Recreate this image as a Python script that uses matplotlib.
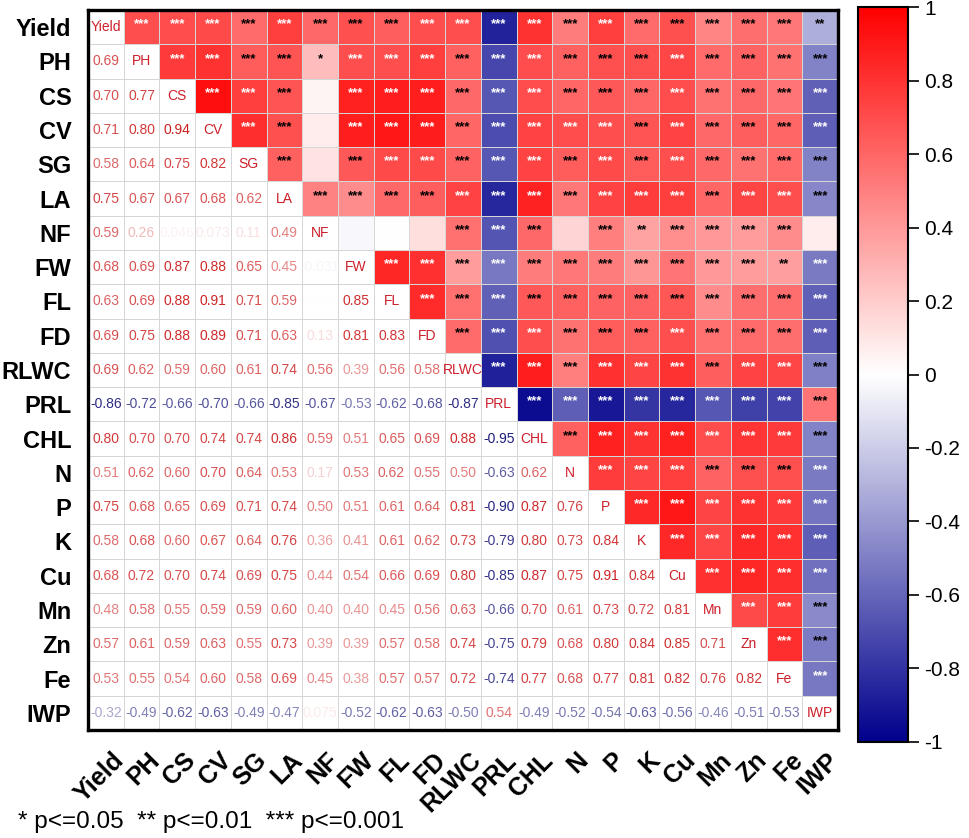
import numpy as np
import matplotlib
matplotlib.use('Agg')
import matplotlib.pyplot as plt
from matplotlib.colors import LinearSegmentedColormap, ListedColormap
from matplotlib.transforms import ScaledTranslation

plt.rcParams['font.family'] = ['Liberation Sans', 'DejaVu Sans']

variables = ['Yield', 'PH', 'CS', 'CV', 'SG', 'LA', 'NF', 'FW', 'FL', 'FD', 'RLWC',
             'PRL', 'CHL', 'N', 'P', 'K', 'Cu', 'Mn', 'Zn', 'Fe', 'IWP']

# lower-triangle correlation coefficients (row i, columns 0..i-1)
r_rows = [
    [],
    [0.69],
    [0.70, 0.77],
    [0.71, 0.80, 0.94],
    [0.58, 0.64, 0.75, 0.82],
    [0.75, 0.67, 0.67, 0.68, 0.62],
    [0.59, 0.26, 0.046, 0.073, 0.11, 0.49],
    [0.68, 0.69, 0.87, 0.88, 0.65, 0.45, -0.031],
    [0.63, 0.69, 0.88, 0.91, 0.71, 0.59, 0.004, 0.85],
    [0.69, 0.75, 0.88, 0.89, 0.71, 0.63, 0.13, 0.81, 0.83],
    [0.69, 0.62, 0.59, 0.60, 0.61, 0.74, 0.56, 0.39, 0.56, 0.58],
    [-0.86, -0.72, -0.66, -0.70, -0.66, -0.85, -0.67, -0.53, -0.62, -0.68, -0.87],
    [0.80, 0.70, 0.70, 0.74, 0.74, 0.86, 0.59, 0.51, 0.65, 0.69, 0.88, -0.95],
    [0.51, 0.62, 0.60, 0.70, 0.64, 0.53, 0.17, 0.53, 0.62, 0.55, 0.50, -0.63, 0.62],
    [0.75, 0.68, 0.65, 0.69, 0.71, 0.74, 0.50, 0.51, 0.61, 0.64, 0.81, -0.90, 0.87, 0.76],
    [0.58, 0.68, 0.60, 0.67, 0.64, 0.76, 0.36, 0.41, 0.61, 0.62, 0.73, -0.79, 0.80, 0.73, 0.84],
    [0.68, 0.72, 0.70, 0.74, 0.69, 0.75, 0.44, 0.54, 0.66, 0.69, 0.80, -0.85, 0.87, 0.75, 0.91, 0.84],
    [0.48, 0.58, 0.55, 0.59, 0.59, 0.60, 0.40, 0.40, 0.45, 0.56, 0.63, -0.66, 0.70, 0.61, 0.73, 0.72, 0.81],
    [0.57, 0.61, 0.59, 0.63, 0.55, 0.73, 0.39, 0.39, 0.57, 0.58, 0.74, -0.75, 0.79, 0.68, 0.80, 0.84, 0.85, 0.71],
    [0.53, 0.55, 0.54, 0.60, 0.58, 0.69, 0.45, 0.38, 0.57, 0.57, 0.72, -0.74, 0.77, 0.68, 0.77, 0.81, 0.82, 0.76, 0.82],
    [-0.32, -0.49, -0.62, -0.63, -0.49, -0.47, 0.075, -0.52, -0.62, -0.63, -0.50, 0.54, -0.49, -0.52, -0.54, -0.63, -0.56, -0.46, -0.51, -0.53],
]

# significance stars for each pair (same layout as r_rows)
star_rows = [
    [],
    [3],
    [3, 3],
    [3, 3, 3],
    [3, 3, 3, 3],
    [3, 3, 3, 3, 3],
    [3, 1, 0, 0, 0, 3],
    [3, 3, 3, 3, 3, 3, 0],
    [3, 3, 3, 3, 3, 3, 0, 3],
    [3, 3, 3, 3, 3, 3, 0, 3, 3],
    [3, 3, 3, 3, 3, 3, 3, 3, 3, 3],
    [3, 3, 3, 3, 3, 3, 3, 3, 3, 3, 3],
    [3, 3, 3, 3, 3, 3, 3, 3, 3, 3, 3, 3],
    [3, 3, 3, 3, 3, 3, 0, 3, 3, 3, 3, 3, 3],
    [3, 3, 3, 3, 3, 3, 3, 3, 3, 3, 3, 3, 3, 3],
    [3, 3, 3, 3, 3, 3, 2, 3, 3, 3, 3, 3, 3, 3, 3],
    [3, 3, 3, 3, 3, 3, 3, 3, 3, 3, 3, 3, 3, 3, 3, 3],
    [3, 3, 3, 3, 3, 3, 3, 3, 3, 3, 3, 3, 3, 3, 3, 3, 3],
    [3, 3, 3, 3, 3, 3, 3, 3, 3, 3, 3, 3, 3, 3, 3, 3, 3, 3],
    [3, 3, 3, 3, 3, 3, 3, 2, 3, 3, 3, 3, 3, 3, 3, 3, 3, 3, 3],
    [2, 3, 3, 3, 3, 3, 0, 3, 3, 3, 3, 3, 3, 3, 3, 3, 3, 3, 3, 3],
]

cbar_ticks = [-1, -0.8, -0.6, -0.4, -0.2, 0, 0.2, 0.4, 0.6, 0.8, 1]
cbar_labels = ['-1', '-0.8', '-0.6', '-0.4', '-0.2', '0', '0.2', '0.4', '0.6', '0.8', '1']
footnote = '* p<=0.05  ** p<=0.01  *** p<=0.001'

n = len(variables)
R = np.eye(n)
S = np.zeros((n, n), dtype=int)
for i, row in enumerate(r_rows):
    for j, v in enumerate(row):
        R[i, j] = R[j, i] = v
        S[i, j] = S[j, i] = star_rows[i][j]

cmap = LinearSegmentedColormap.from_list('bwr_custom', ['#00008c', '#ffffff', '#ff0000'])

fig = plt.figure(figsize=(9.69, 8.38), dpi=100)
ax = fig.add_axes([0.0908, 0.1289, 0.774, 0.8591])

ii, jj = np.indices((n, n))
upper = np.ma.masked_where(jj <= ii, R)
lower = np.ma.masked_where(jj > ii, np.zeros((n, n)))

edges = np.arange(n + 1)
ax.pcolormesh(edges, edges, lower, cmap=ListedColormap(['white']),
              edgecolors='#d6d6d6', linewidth=0.7)
mesh = ax.pcolormesh(edges, edges, upper, cmap=cmap, vmin=-1, vmax=1,
                     edgecolors='#d6d6d6', linewidth=0.7)

def fmt(v):
    if abs(v) >= 0.1:
        return f'{v:.2f}'
    return f'{v:.2g}'

for i in range(n):
    for j in range(n):
        v = R[i, j]
        if i == j:
            ax.text(j + 0.5, i + 0.5, variables[i], ha='center', va='center',
                    fontsize=10, color='#cc1f2a')
        elif i > j:
            c = np.array(cmap((0.9 * v + 1) / 2)[:3])
            c = c * (1 - 0.22 * abs(v))
            ax.text(j + 0.5, i + 0.5, fmt(v), ha='center', va='center',
                    fontsize=10, color=c)
        else:
            k = S[i, j]
            if k > 0:
                c = cmap((v + 1) / 2)
                lum = 0.299 * c[0] + 0.587 * c[1] + 0.114 * c[2]
                sc = 'white' if lum < 0.514 else 'black'
                ax.text(j + 0.5, i + 0.42, '*' * k, ha='center', va='center',
                        fontsize=9.5, fontweight='bold', color=sc)

ax.set_xlim(0, n)
ax.set_ylim(n, 0)
ax.set_xticks(np.arange(n) + 0.5)
ax.set_yticks(np.arange(n) + 0.5)
ax.set_yticklabels(variables, fontsize=17, fontweight='bold')
ax.set_xticklabels(variables, fontsize=18, fontweight='bold', rotation=45,
                   ha='right', va='top', rotation_mode='anchor')
ax.tick_params(axis='y', length=0, pad=12)
ax.tick_params(axis='x', length=0, pad=13)
shift = ScaledTranslation(0.06, 0, fig.dpi_scale_trans)
for lbl in ax.get_xticklabels():
    lbl.set_transform(lbl.get_transform() + shift)
for sp in ax.spines.values():
    sp.set_linewidth(2.4)
    sp.set_color('black')

cax = fig.add_axes([0.8854, 0.1146, 0.0516, 0.877])
cb = fig.colorbar(mesh, cax=cax, ticks=cbar_ticks)
cb.ax.set_yticklabels(cbar_labels, fontsize=15)
cb.ax.tick_params(length=8, width=1.2, direction='out', pad=4)
cb.outline.set_linewidth(1.5)

fig.text(0.019, 0.019, footnote, fontsize=17.5, ha='left', va='center')

fig.savefig('out.png', dpi=100)
